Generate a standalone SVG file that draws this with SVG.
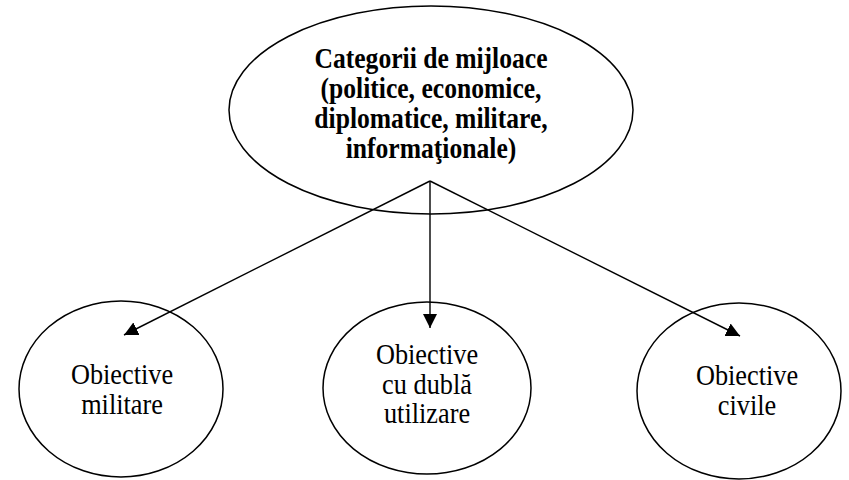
<svg xmlns="http://www.w3.org/2000/svg" width="849" height="480" viewBox="0 0 849 480">
<style>
.node{fill:#fff;stroke:#000;stroke-width:1.5}
.edge{stroke:#000;stroke-width:1.4;fill:none;marker-end:url(#arr)}
text{font-family:'Liberation Serif','Times New Roman','DejaVu Serif',serif;fill:#000;text-anchor:middle}
.tb{font-size:25.6px;font-weight:bold}
.tr{font-size:26.3px}
</style>
<defs>
<marker id="arr" markerUnits="userSpaceOnUse" markerWidth="15" markerHeight="14" refX="14" refY="7" orient="auto">
<path d="M0,0 L14,7 L0,14 z" fill="#000"/>
</marker>
</defs>
<rect width="849" height="480" fill="#fff"/>
<g id="n-top">
<ellipse class="node" cx="431" cy="110" rx="202" ry="104"/>
<text class="tb" font-family="Liberation Serif, serif" transform="translate(431,68) scale(1,1.15)"><tspan x="0" y="0">Categorii de mijloace</tspan><tspan x="0" dy="26">(politice, economice,</tspan><tspan x="0" dy="26">diplomatice, militare,</tspan><tspan x="0" dy="26">informaţionale)</tspan></text>
</g>
<g id="n-militare">
<ellipse class="node" cx="121" cy="389" rx="102" ry="88"/>
<text class="tr" font-family="Liberation Serif, serif" transform="translate(122,384) scale(1,1.12)"><tspan x="0" y="0">Obiective</tspan><tspan x="0" dy="26.8">militare</tspan></text>
</g>
<g id="n-dubla">
<ellipse class="node" cx="427" cy="388" rx="104" ry="86"/>
<text class="tr" font-family="Liberation Serif, serif" transform="translate(427,364) scale(1,1.12)"><tspan x="0" y="0">Obiective</tspan><tspan x="0" dy="26.4">cu dublă</tspan><tspan x="0" dy="26.4">utilizare</tspan></text>
</g>
<g id="n-civile">
<ellipse class="node" cx="739" cy="391" rx="102" ry="88"/>
<text class="tr" font-family="Liberation Serif, serif" transform="translate(747,385) scale(1,1.12)"><tspan x="0" y="0">Obiective</tspan><tspan x="0" dy="26.8">civile</tspan></text>
</g>
<g id="connectors">
<line class="edge" x1="430" y1="181" x2="124" y2="335"/>
<line class="edge" x1="430" y1="181" x2="430" y2="328"/>
<line class="edge" x1="430" y1="181" x2="740" y2="336"/>
</g>
</svg>
